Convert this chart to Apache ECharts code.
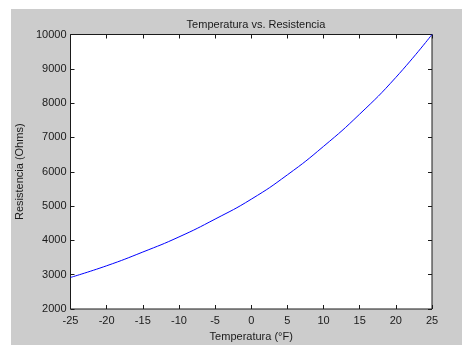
<!DOCTYPE html>
<html>
<head>
<meta charset="utf-8">
<script src="https://cdn.jsdelivr.net/npm/echarts@6/dist/echarts.min.js"></script>
<style>
html, body { margin: 0; padding: 0; background: #fff; }
#chart { width: 462px; height: 347px; }
</style>
</head>
<body>
<div id="chart"></div>
<script>
var temperatures = [-25, -20, -15, -10, -5, 0, 5, 10, 15, 20, 25];
var resistances = [2920, 3260, 3660, 4100, 4620, 5200, 5910, 6740, 7680, 8750, 10000];
var xTicks = { min: -25, max: 25, step: 5 };
var yTicks = { min: 2000, max: 10000, step: 1000 };

var font = 'Liberation Sans, Arial, sans-serif';
var ink = '#1a1a1a';

var points = temperatures.map(function (t, i) { return [t, resistances[i]]; });

var chart = echarts.init(document.getElementById('chart'));

function tickAxis(pos, range, showLabel) {
    return {
        type: 'value',
        position: pos,
        min: range.min,
        max: range.max,
        interval: range.step,
        axisLine: { show: false, onZero: false },
        axisTick: { show: true, inside: true, length: 4, lineStyle: { color: ink } },
        axisLabel: { show: showLabel },
        splitLine: { show: false }
    };
}

var xMain = tickAxis('bottom', xTicks, true);
xMain.axisLabel = { color: ink, fontFamily: font, fontSize: 11, margin: 6 };
xMain.name = 'Temperatura (°F)';
xMain.nameLocation = 'middle';
xMain.nameGap = 22;
xMain.nameTextStyle = { color: ink, fontFamily: font, fontSize: 11 };

var yMain = tickAxis('left', yTicks, true);
yMain.axisLabel = {
    color: ink, fontFamily: font, fontSize: 11, margin: 4,
    formatter: function (v) { return String(v); }
};
yMain.name = 'Resistencia (Ohms)';
yMain.nameLocation = 'middle';
yMain.nameGap = 32;
yMain.nameTextStyle = { color: ink, fontFamily: font, fontSize: 11 };

chart.setOption({
    backgroundColor: '#ffffff',
    animation: false,
    graphic: [{
        type: 'rect',
        z: -10,
        shape: { x: 11, y: 9, width: 451, height: 336 },
        style: { fill: '#cccccc' }
    }],
    title: {
        text: 'Temperatura vs. Resistencia',
        left: 251,
        top: 14,
        textAlign: 'center',
        textStyle: { color: ink, fontFamily: font, fontSize: 11, fontWeight: 'normal' }
    },
    grid: {
        left: 70.5, right: 30, top: 34.5, bottom: 28.5,
        show: true,
        backgroundColor: '#ffffff',
        borderColor: ink,
        borderWidth: 1
    },
    xAxis: [xMain, tickAxis('top', xTicks, false)],
    yAxis: [yMain, tickAxis('right', yTicks, false)],
    series: [{
        type: 'line',
        data: points,
        smooth: true,
        showSymbol: false,
        lineStyle: { color: '#0000ff', width: 1 }
    }]
});
</script>
</body>
</html>
